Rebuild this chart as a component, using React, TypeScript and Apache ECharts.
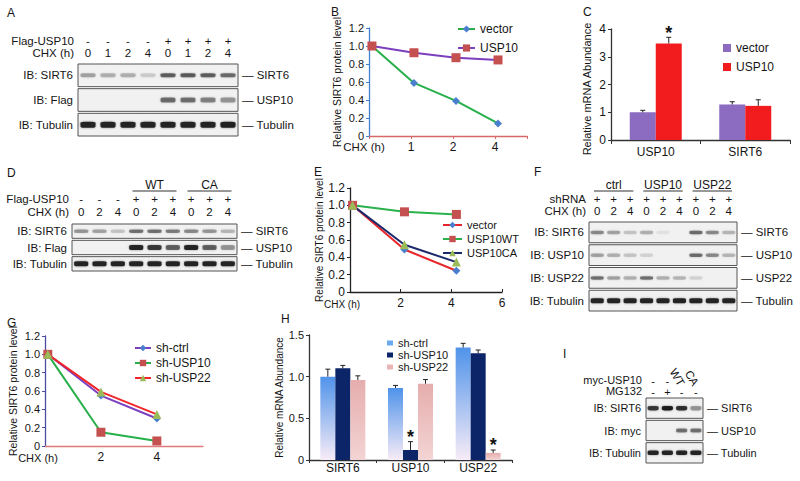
import React, { useEffect, useRef } from 'react';
import * as echarts from 'echarts';

const FONT = '"Liberation Sans", Arial, Helvetica, sans-serif';
const INK = '#151515';

// ---------------- Panel A (western blot) ----------------
const aFlagRow = ['-', '-', '-', '-', '+', '+', '+', '+'];
const aChxRow = ['0', '1', '2', '4', '0', '1', '2', '4'];
const aBlotRows = ['IB: SIRT6', 'IB: Flag', 'IB: Tubulin'];
const aBlotRight = ['SIRT6', 'USP10', 'Tubulin'];
const aSirt6Band = [0.3, 0.25, 0.25, 0.12, 0.6, 0.62, 0.6, 0.55];
const aFlagBand = [0, 0, 0, 0, 0.55, 0.5, 0.42, 0.35];
const aTubulinBand = [0.95, 0.95, 0.95, 0.95, 0.95, 0.95, 0.95, 0.97];

// ---------------- Panel B ----------------
const bTickLabels = ['', '1', '2', '4'];
const bTime = [0.07, 1.07, 2.07, 3.07];
const bVector = [1.0, 0.59, 0.39, 0.14];
const bUSP10 = [1.0, 0.925, 0.87, 0.845];

// ---------------- Panel C ----------------
const cCategories = ['USP10', 'SIRT6'];
const cVector = [1.0, 1.28];
const cVectorErr = [0.07, 0.1];
const cUSP10 = [3.48, 1.23];
const cUSP10Err = [0.22, 0.22];
const cUSP10Star = [true, false];

// ---------------- Panel D (western blot) ----------------
const dGroupLabels = ['WT', 'CA'];
const dGroupSpans = [[3, 5], [6, 8]];
const dFlagRow = ['-', '-', '-', '+', '+', '+', '+', '+', '+'];
const dChxRow = ['0', '2', '4', '0', '2', '4', '0', '2', '4'];
const dBlotRows = ['IB: SIRT6', 'IB: Flag', 'IB: Tubulin'];
const dBlotRight = ['SIRT6', 'USP10', 'Tubulin'];
const dSirt6Band = [0.35, 0.3, 0.15, 0.5, 0.5, 0.45, 0.4, 0.35, 0.2];
const dFlagBand = [0, 0, 0, 0.95, 0.8, 0.6, 0.9, 0.6, 0.35];
const dTubulinBand = [0.95, 0.95, 0.95, 0.95, 0.95, 0.95, 0.95, 0.95, 0.95];

// ---------------- Panel E ----------------
const eTickLabels: Record<number, string> = { 2: '2', 4: '4', 6: '6' };
const eTime = [0.1, 2.15, 4.2];
const eVector = [1.0, 0.49, 0.245];
const eUSP10WT = [1.0, 0.925, 0.895];
const eUSP10CA = [1.0, 0.545, 0.345];

// ---------------- Panel F (western blot) ----------------
const fGroupLabels = ['ctrl', 'USP10', 'USP22'];
const fGroupSpans = [[0, 2], [3, 5], [6, 8]];
const fShRow = ['+', '+', '+', '+', '+', '+', '+', '+', '+'];
const fChxRow = ['0', '2', '4', '0', '2', '4', '0', '2', '4'];
const fBlotRows = ['IB: SIRT6', 'IB: USP10', 'IB: USP22', 'IB: Tubulin'];
const fBlotRight = ['SIRT6', 'USP10', 'USP22', 'Tubulin'];
const fSirt6Band = [0.4, 0.3, 0.15, 0.25, 0.05, 0, 0.55, 0.4, 0.2];
const fUSP10Band = [0.3, 0.25, 0.15, 0.1, 0, 0, 0.55, 0.4, 0.2];
const fUSP22Band = [0.5, 0.3, 0.25, 0.5, 0.25, 0.2, 0.1, 0, 0];
const fTubulinBand = [0.95, 0.95, 0.95, 0.95, 0.95, 0.95, 0.95, 0.95, 0.95];

// ---------------- Panel G ----------------
const gTickLabels: Record<number, string> = { 2: '2', 4: '4' };
const gTime = [0.1, 2, 4];
const gShCtrl = [1.0, 0.55, 0.3];
const gShUSP10 = [1.0, 0.15, 0.055];
const gShUSP22 = [1.0, 0.59, 0.345];

// ---------------- Panel H ----------------
const hCategories = ['SIRT6', 'USP10', 'USP22'];
const hShCtrl = [1.0, 0.865, 1.35];
const hShCtrlErr = [0.09, 0.03, 0.05];
const hShUSP10 = [1.1, 0.12, 1.28];
const hShUSP10Err = [0.035, 0.1, 0.04];
const hShUSP10Star = [false, true, false];
const hShUSP22 = [0.96, 0.915, 0.085];
const hShUSP22Err = [0.05, 0.05, 0.035];
const hShUSP22Star = [false, false, true];

// ---------------- Panel I (western blot) ----------------
const iMycRow = ['-', '-', '', ''];
const iMycMutant = ['', '', 'WT', 'CA'];
const iMg132Row = ['-', '+', '-', '-'];
const iBlotRows = ['IB: SIRT6', 'IB: myc', 'IB: Tubulin'];
const iBlotRight = ['SIRT6', 'USP10', 'Tubulin'];
const iSirt6Band = [0.8, 1.0, 0.85, 0.35];
const iMycBand = [0, 0, 0.5, 0.5];
const iTubulinBand = [0.95, 0.95, 0.95, 0.95];

type AnyObj = Record<string, any>;

interface TopRow { labels: string[]; offset: number; margin: number; size?: number; rotate?: number }
interface BlotCfg {
  left: number; top: number; width: number; height: number;
  rows: string[]; right: string[]; bands: number[][]; topRows: TopRow[];
  bandW: number; bandH: number[]; size: number; rowGap: number;
  groups?: { labels: string[]; spans: number[][]; textDy: number; lineDy: number };
}

function buildOption() {
  const grid: AnyObj[] = [];
  const xAxis: AnyObj[] = [];
  const yAxis: AnyObj[] = [];
  const series: AnyObj[] = [];
  const legend: AnyObj[] = [];
  const graphic: AnyObj[] = [];

  const text = (t: string, x: number, y: number, size = 12, align = 'left') => {
    graphic.push({
      type: 'text', x, y, silent: true,
      style: { text: t, fill: INK, font: `${size}px ${FONT}`, align, verticalAlign: 'middle' },
    });
  };
  const strip = (n: string) => n.split('|')[1];

  const addBlot = (c: BlotCfg) => {
    const gi = grid.length;
    grid.push({ left: c.left, top: c.top, width: c.width, height: c.height });
    const laneIds = c.bands[0].map((_, i) => String(i));
    const xi = xAxis.length;
    c.topRows.forEach((r) => {
      xAxis.push({
        type: 'category', gridIndex: gi, data: laneIds, position: 'top', offset: r.offset,
        axisLine: { show: false }, axisTick: { show: false }, splitLine: { show: false },
        axisLabel: {
          interval: 0, margin: r.margin, rotate: r.rotate ?? 0, fontSize: r.size ?? 11,
          color: INK, fontFamily: FONT, formatter: (_v: string, i: number) => r.labels[i],
        },
      });
    });
    const yi = yAxis.length;
    yAxis.push({
      type: 'category', gridIndex: gi, data: c.rows, inverse: true, position: 'left',
      axisLine: { show: false }, axisTick: { show: false }, splitLine: { show: false },
      axisLabel: { interval: 0, margin: 5, fontSize: c.size, color: INK, fontFamily: FONT },
    });
    yAxis.push({
      type: 'category', gridIndex: gi, data: c.right, inverse: true, position: 'right',
      axisLine: { show: false }, axisTick: { show: false }, splitLine: { show: false },
      axisLabel: { interval: 0, margin: 4, fontSize: c.size, color: INK, fontFamily: FONT, formatter: (v: string) => '— ' + v },
    });
    series.push({
      type: 'custom', xAxisIndex: xi, yAxisIndex: yi, z: 1, silent: true,
      data: c.rows.map((_, r) => [0, r]),
      renderItem: (params: any, api: any) => {
        const cs = params.coordSys;
        const yc = api.coord([0, api.value(1)])[1];
        const h = api.size([0, 1])[1];
        return {
          type: 'rect',
          shape: { x: cs.x, y: yc - h / 2 + c.rowGap / 2, width: cs.width, height: h - c.rowGap },
          style: { fill: '#f1f1f1', stroke: '#555', lineWidth: 1 },
        };
      },
    });
    const bandData: AnyObj[] = [];
    c.bands.forEach((row, r) => row.forEach((v, lane) => {
      if (v > 0) bandData.push({ value: [lane, r], itemStyle: { opacity: v } });
    }));
    series.push({
      type: 'scatter', xAxisIndex: xi, yAxisIndex: yi, z: 2, silent: true, symbol: 'roundRect',
      symbolSize: (val: number[]) => [c.bandW, c.bandH[val[1]]],
      itemStyle: { color: '#1b1b1b', shadowBlur: 2, shadowColor: 'rgba(0,0,0,0.45)' },
      data: bandData,
    });
    if (c.groups) {
      const g = c.groups;
      series.push({
        type: 'custom', xAxisIndex: xi, yAxisIndex: yi, z: 3, silent: true,
        data: g.spans.map((s) => [s[0], 0]),
        renderItem: (params: any, api: any) => {
          const cs = params.coordSys;
          const span = g.spans[params.dataIndex];
          const bw = api.size([1, 0])[0];
          const x1 = api.coord([span[0], 0])[0] - bw * 0.2;
          const x2 = api.coord([span[1], 0])[0] + bw * 0.2;
          const yl = cs.y - g.lineDy;
          return {
            type: 'group',
            children: [
              { type: 'line', shape: { x1, y1: yl, x2, y2: yl }, style: { stroke: '#333', lineWidth: 1 } },
              {
                type: 'text',
                style: {
                  text: g.labels[params.dataIndex], x: (x1 + x2) / 2, y: cs.y - g.textDy,
                  align: 'center', verticalAlign: 'middle', font: `12px ${FONT}`, fill: INK,
                },
              },
            ],
          };
        },
      });
    }
  };

  const errSeries = (xi: number, yi: number, vals: number[], errs: number[], stars: boolean[] | null,
    k: number, n: number, barW: number, starSize: number, starDy: number) => ({
    type: 'custom', xAxisIndex: xi, yAxisIndex: yi, z: 5, silent: true,
    data: vals.map((v, i) => [i, v, errs[i]]),
    renderItem: (params: any, api: any) => {
      const ci = api.value(0);
      const v = api.value(1);
      const e = api.value(2);
      const base = api.coord([ci, v]);
      const x = base[0] + (k - (n - 1) / 2) * barW;
      const top = api.coord([ci, v + e])[1];
      const children: AnyObj[] = [
        { type: 'line', shape: { x1: x, y1: base[1], x2: x, y2: top }, style: { stroke: '#222', lineWidth: 1 } },
        { type: 'line', shape: { x1: x - 2.5, y1: top, x2: x + 2.5, y2: top }, style: { stroke: '#222', lineWidth: 1 } },
      ];
      if (stars && stars[params.dataIndex]) {
        children.push({
          type: 'text',
          style: {
            text: '*', x, y: top + starDy, align: 'center', verticalAlign: 'bottom',
            font: `bold ${starSize}px ${FONT}`, fill: '#111',
          },
        });
      }
      return { type: 'group', children };
    },
  });

  const lineSeries = (name: string, xi: number, yi: number, xs: number[], ys: number[],
    lineColor: string, symbol: string, symbolColor: string, symbolSize: number) => ({
    type: 'line', name, xAxisIndex: xi, yAxisIndex: yi, z: 3, clip: false,
    data: xs.map((x, i) => [x, ys[i]]), symbol, symbolSize, showSymbol: true,
    lineStyle: { color: lineColor, width: 2 }, itemStyle: { color: symbolColor },
  });

  const valueY = (gi: number, max: number, interval: number, color: string, name: string, nameGap: number,
    nameSize: number, labelSize: number, fmt: (v: number) => string, namePad: number[] = [0, 0, 0, 0]) => ({
    type: 'value', gridIndex: gi, min: 0, max, interval,
    axisLine: { show: true, lineStyle: { color, width: 1.3 } },
    axisTick: { show: true, length: 3, lineStyle: { color } },
    axisLabel: { fontSize: labelSize, color: INK, fontFamily: FONT, margin: 5, formatter: fmt },
    splitLine: { show: false },
    name, nameLocation: 'middle', nameGap,
    nameTextStyle: { fontSize: nameSize, color: INK, fontFamily: FONT, padding: namePad },
  });
  const fmt1 = (v: number) => (v === 0 ? '0' : v.toFixed(1));

  // ---------- panel letters ----------
  text('A', 7, 13); text('B', 331, 12); text('C', 583, 12);
  text('D', 7, 173); text('E', 314, 172); text('F', 534, 172);
  text('G', 7, 323); text('H', 281, 319); text('I', 563, 354);

  // ---------- A ----------
  text('Flag-USP10', 74, 41, 11.5, 'right');
  text('CHX (h)', 74, 53, 11.5, 'right');
  addBlot({
    left: 78, top: 63, width: 160, height: 74, rows: aBlotRows, right: aBlotRight,
    bands: [aSirt6Band, aFlagBand, aTubulinBand],
    topRows: [{ labels: aChxRow, offset: 0, margin: 4, size: 11.5 }, { labels: aFlagRow, offset: 12, margin: 4, size: 11.5 }],
    bandW: 15, bandH: [4, 5, 6], size: 11.5, rowGap: 2,
  });

  // ---------- B ----------
  {
    const gi = grid.length;
    grid.push({ left: 369, top: 28, width: 158, height: 108 });
    const xi = xAxis.length;
    xAxis.push({
      type: 'value', gridIndex: gi, min: 0, max: 3.76, interval: 1,
      axisLine: { show: true, lineStyle: { color: '#d8686a', width: 1.3 } },
      axisTick: { show: true, length: 3, lineStyle: { color: '#d8686a' } },
      axisLabel: { fontSize: 12, color: INK, fontFamily: FONT, margin: 5, formatter: (v: number) => bTickLabels[v] ?? '' },
      splitLine: { show: false },
    });
    const yi = yAxis.length;
    yAxis.push(valueY(gi, 1.2, 0.2, '#3f7fd4', 'Relative SIRT6 protein level', 27, 10.5, 11, fmt1));
    series.push(lineSeries('B|vector', xi, yi, bTime, bVector, '#27b04a', 'diamond', '#4a7fd0', 8));
    series.push(lineSeries('B|USP10', xi, yi, bTime, bUSP10, '#7b3fc0', 'rect', '#c4504f', 9));
    legend.push({
      orient: 'vertical', left: 452, top: 17, itemWidth: 17, itemHeight: 9, itemGap: 5, selectedMode: false,
      formatter: strip, textStyle: { fontSize: 12, color: INK, fontFamily: FONT, lineHeight: 14 },
      data: ['B|vector', 'B|USP10'],
    });
    text('CHX (h)', 364, 147, 11.5, 'center');
  }

  // ---------- C ----------
  {
    const gi = grid.length;
    grid.push({ left: 611, top: 29, width: 179, height: 111 });
    const xi = xAxis.length;
    xAxis.push({
      type: 'category', gridIndex: gi, data: cCategories,
      axisLine: { show: true, lineStyle: { color: '#333', width: 1.3 } },
      axisTick: { show: true, length: 4, lineStyle: { color: '#333' } },
      axisLabel: { fontSize: 12, color: INK, fontFamily: FONT, margin: 6 },
    });
    const yi = yAxis.length;
    yAxis.push(valueY(gi, 4, 1, '#333', 'Relative mRNA Abundance', 19, 11, 12, (v) => String(v), [0, 9, 0, 0]));
    series.push({ type: 'bar', name: 'C|vector', xAxisIndex: xi, yAxisIndex: yi, data: cVector, barWidth: 26, barGap: '0%', itemStyle: { color: '#8b6cc0' } });
    series.push({ type: 'bar', name: 'C|USP10', xAxisIndex: xi, yAxisIndex: yi, data: cUSP10, barWidth: 26, barGap: '0%', itemStyle: { color: '#f21c1f' } });
    series.push(errSeries(xi, yi, cVector, cVectorErr, null, 0, 2, 26, 18, 5));
    series.push(errSeries(xi, yi, cUSP10, cUSP10Err, cUSP10Star, 1, 2, 26, 18, 5));
    legend.push({
      orient: 'vertical', left: 718, top: 36, itemWidth: 8, itemHeight: 8, itemGap: 5, selectedMode: false, icon: 'rect',
      formatter: strip, textStyle: { fontSize: 12, color: INK, fontFamily: FONT, lineHeight: 14 },
      data: ['C|vector', 'C|USP10'],
    });
  }

  // ---------- D ----------
  text('Flag-USP10', 69, 199, 11.5, 'right');
  text('CHX (h)', 69, 212, 11.5, 'right');
  addBlot({
    left: 72, top: 223, width: 165, height: 49, rows: dBlotRows, right: dBlotRight,
    bands: [dSirt6Band, dFlagBand, dTubulinBand],
    topRows: [{ labels: dChxRow, offset: 0, margin: 5, size: 11.5 }, { labels: dFlagRow, offset: 13, margin: 5, size: 11.5 }],
    bandW: 14, bandH: [3.5, 5, 5], size: 11.5, rowGap: 2,
    groups: { labels: dGroupLabels, spans: dGroupSpans, textDy: 38, lineDy: 32 },
  });

  // ---------- E ----------
  {
    const gi = grid.length;
    grid.push({ left: 350, top: 188, width: 152, height: 104 });
    const xi = xAxis.length;
    xAxis.push({
      type: 'value', gridIndex: gi, min: 0, max: 6, interval: 2,
      axisLine: { show: true, lineStyle: { color: '#222', width: 1.3 } },
      axisTick: { show: true, inside: true, length: 3, lineStyle: { color: '#222' } },
      axisLabel: { fontSize: 12, color: INK, fontFamily: FONT, margin: 5, formatter: (v: number) => eTickLabels[v] ?? '' },
      splitLine: { show: false },
    });
    const yi = yAxis.length;
    yAxis.push(valueY(gi, 1.2, 0.2, '#222', 'Relative SIRT6 protein level', 24, 10, 12, fmt1));
    series.push(lineSeries('E|vector', xi, yi, eTime, eVector, '#e8252a', 'diamond', '#4a7fd0', 8));
    series.push(lineSeries('E|USP10WT', xi, yi, eTime, eUSP10WT, '#2bb24c', 'rect', '#c4504f', 9));
    series.push(lineSeries('E|USP10CA', xi, yi, eTime, eUSP10CA, '#1c2a6b', 'triangle', '#9bbb59', 9));
    legend.push({
      orient: 'vertical', left: 437, top: 214, itemWidth: 19, itemHeight: 8, itemGap: 2, selectedMode: false,
      formatter: strip, textStyle: { fontSize: 11, color: INK, fontFamily: FONT, lineHeight: 12 },
      data: ['E|vector', 'E|USP10WT', 'E|USP10CA'],
    });
    text('CHX (h)', 342, 304, 10, 'center');
  }

  // ---------- F ----------
  text('shRNA', 586, 199, 11.5, 'right');
  text('CHX (h)', 586, 211, 11.5, 'right');
  addBlot({
    left: 589, top: 221, width: 148, height: 91, rows: fBlotRows, right: fBlotRight,
    bands: [fSirt6Band, fUSP10Band, fUSP22Band, fTubulinBand],
    topRows: [{ labels: fChxRow, offset: 0, margin: 4, size: 11.5 }, { labels: fShRow, offset: 12, margin: 4, size: 11.5 }],
    bandW: 13, bandH: [3.5, 3.5, 3.5, 5], size: 11.5, rowGap: 2,
    groups: { labels: fGroupLabels, spans: fGroupSpans, textDy: 36, lineDy: 30 },
  });

  // ---------- G ----------
  {
    const gi = grid.length;
    grid.push({ left: 45, top: 336, width: 158, height: 110 });
    const xi = xAxis.length;
    xAxis.push({
      type: 'value', gridIndex: gi, min: 0, max: 5.65, interval: 2,
      axisLine: { show: true, lineStyle: { color: '#e07a7a', width: 1.3 } },
      axisTick: { show: false },
      axisLabel: { fontSize: 12, color: INK, fontFamily: FONT, margin: 5, formatter: (v: number) => gTickLabels[v] ?? '' },
      splitLine: { show: false },
    });
    const yi = yAxis.length;
    yAxis.push(valueY(gi, 1.2, 0.2, '#4c4ca0', 'Relative SIRT6 protein level', 27, 10.5, 11, fmt1));
    series.push(lineSeries('G|sh-ctrl', xi, yi, gTime, gShCtrl, '#7b3fc0', 'diamond', '#4a7fd0', 8));
    series.push(lineSeries('G|sh-USP10', xi, yi, gTime, gShUSP10, '#27b04a', 'rect', '#c4504f', 9));
    series.push(lineSeries('G|sh-USP22', xi, yi, gTime, gShUSP22, '#f0262a', 'triangle', '#9bbb59', 9));
    legend.push({
      orient: 'vertical', left: 129, top: 336, itemWidth: 16, itemHeight: 8, itemGap: 1, selectedMode: false,
      formatter: strip, textStyle: { fontSize: 12, color: INK, fontFamily: FONT, lineHeight: 14 },
      data: ['G|sh-ctrl', 'G|sh-USP10', 'G|sh-USP22'],
    });
    text('CHX (h)', 38, 458, 11, 'center');
  }

  // ---------- H ----------
  {
    const gi = grid.length;
    grid.push({ left: 309, top: 335, width: 203, height: 125 });
    const xi = xAxis.length;
    xAxis.push({
      type: 'category', gridIndex: gi, data: hCategories,
      axisLine: { show: true, lineStyle: { color: '#333', width: 1.3 } },
      axisTick: { show: true, length: 3, lineStyle: { color: '#333' } },
      axisLabel: { fontSize: 12, color: INK, fontFamily: FONT, margin: 2 },
    });
    const yi = yAxis.length;
    yAxis.push(valueY(gi, 1.5, 0.5, '#333', 'Relative mRNA Abundance', 20, 10, 11, fmt1));
    const ctrlGrad = new echarts.graphic.LinearGradient(0, 0, 0, 1, [
      { offset: 0, color: '#4f93ea' }, { offset: 1, color: '#f8ecf7' },
    ]);
    const usp22Grad = new echarts.graphic.LinearGradient(0, 0, 0, 1, [
      { offset: 0, color: '#e6adad' }, { offset: 1, color: '#f3d4d4' },
    ]);
    series.push({ type: 'bar', name: 'H|sh-ctrl', xAxisIndex: xi, yAxisIndex: yi, data: hShCtrl, barWidth: 15, barGap: '0%', itemStyle: { color: ctrlGrad } });
    series.push({ type: 'bar', name: 'H|sh-USP10', xAxisIndex: xi, yAxisIndex: yi, data: hShUSP10, barWidth: 15, barGap: '0%', itemStyle: { color: '#0c2468' } });
    series.push({ type: 'bar', name: 'H|sh-USP22', xAxisIndex: xi, yAxisIndex: yi, data: hShUSP22, barWidth: 15, barGap: '0%', itemStyle: { color: usp22Grad } });
    series.push(errSeries(xi, yi, hShCtrl, hShCtrlErr, null, 0, 3, 15, 18, 4));
    series.push(errSeries(xi, yi, hShUSP10, hShUSP10Err, hShUSP10Star, 1, 3, 15, 18, 4));
    series.push(errSeries(xi, yi, hShUSP22, hShUSP22Err, hShUSP22Star, 2, 3, 15, 18, 4));
    legend.push({
      orient: 'vertical', left: 382, top: 332, itemWidth: 6, itemHeight: 5, itemGap: 0, selectedMode: false, icon: 'rect',
      formatter: strip, textStyle: { fontSize: 11, color: INK, fontFamily: FONT, lineHeight: 12 },
      data: [
        { name: 'H|sh-ctrl', itemStyle: { color: '#6aaaf0' } },
        { name: 'H|sh-USP10', itemStyle: { color: '#0c2468' } },
        { name: 'H|sh-USP22', itemStyle: { color: '#e8b4b4' } },
      ],
    });
  }

  // ---------- I ----------
  text('myc-USP10', 642, 380, 11, 'right');
  text('MG132', 642, 391, 11, 'right');
  addBlot({
    left: 646, top: 397, width: 57, height: 67, rows: iBlotRows, right: iBlotRight,
    bands: [iSirt6Band, iMycBand, iTubulinBand],
    topRows: [
      { labels: iMg132Row, offset: 0, margin: 0, size: 11 },
      { labels: iMycRow, offset: 11, margin: 0, size: 11 },
      { labels: iMycMutant, offset: 11, margin: 1, size: 11.5, rotate: 60 },
    ],
    bandW: 11, bandH: [4.5, 4, 4.5], size: 11, rowGap: 2,
  });

  return {
    animation: false,
    backgroundColor: '#ffffff',
    textStyle: { fontFamily: FONT },
    grid, xAxis, yAxis, series, legend, graphic,
  };
}

export default function App() {
  const ref = useRef<HTMLDivElement>(null);
  useEffect(() => {
    if (!ref.current) return;
    const chart = echarts.init(ref.current, null, { renderer: 'svg' });
    chart.setOption(buildOption() as any);
    return () => chart.dispose();
  }, []);
  return (
    <div
      ref={ref}
      style={{ position: 'absolute', left: 0, top: 0, width: 800, height: 481, background: '#fff' }}
    />
  );
}
